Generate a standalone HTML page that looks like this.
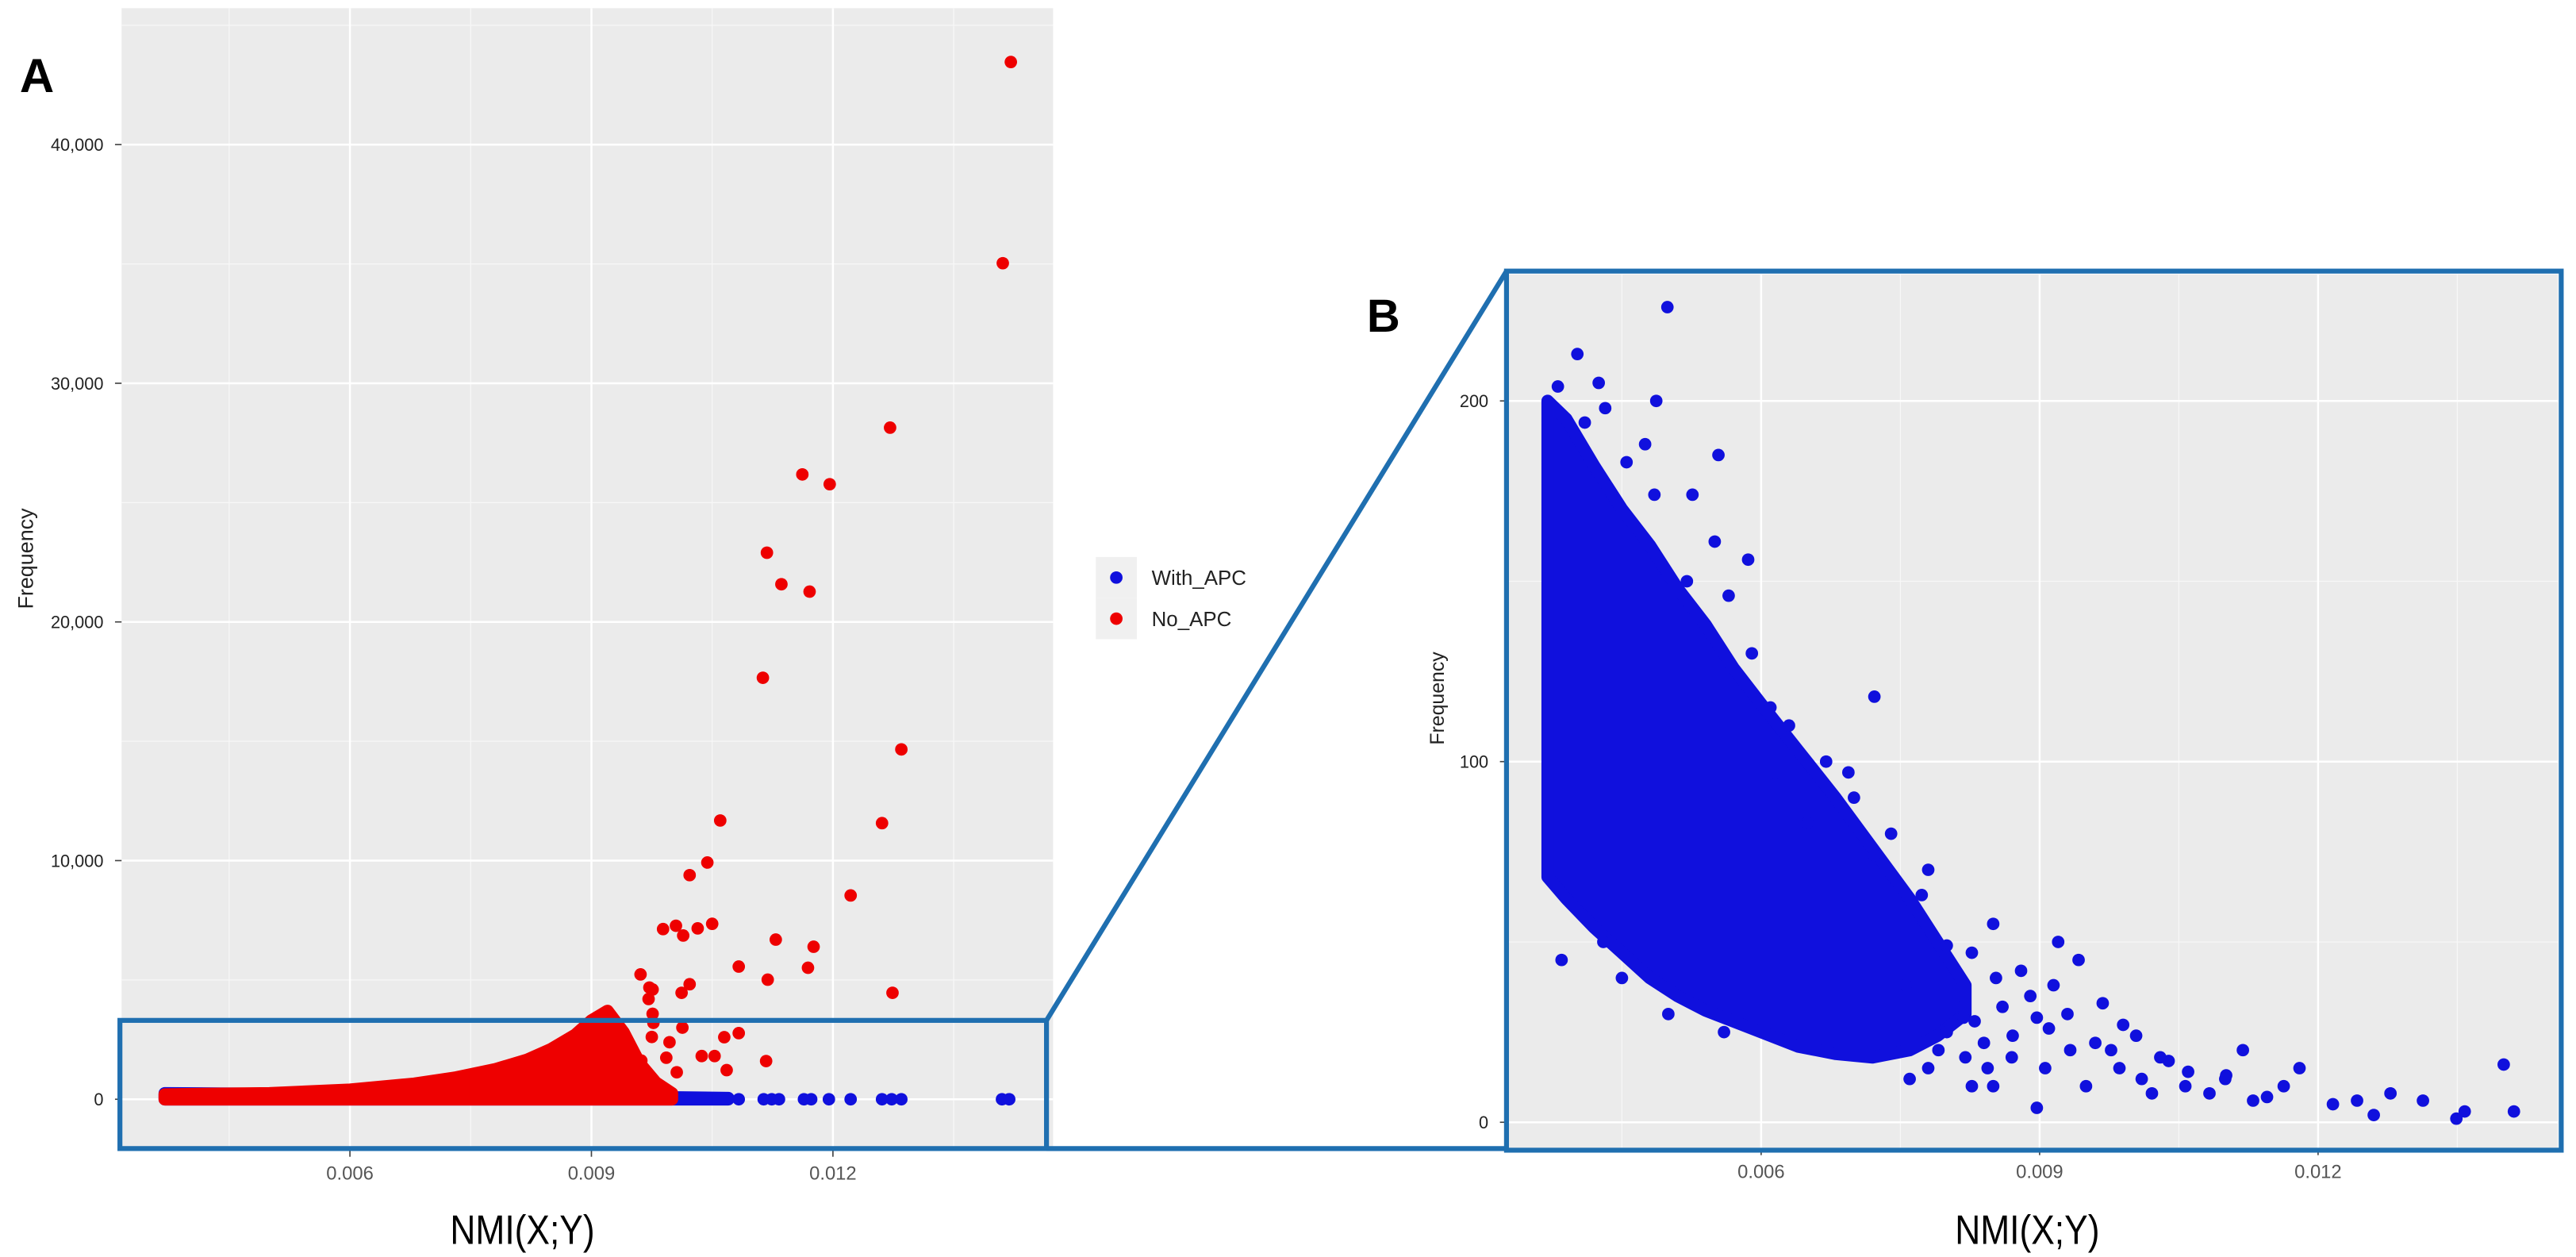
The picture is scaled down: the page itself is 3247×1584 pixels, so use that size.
<!DOCTYPE html>
<html><head><meta charset="utf-8"><style>
html,body{margin:0;padding:0;background:#fff;}
svg{display:block;}
text{font-family:"Liberation Sans",sans-serif;}
</style></head><body>
<svg id="fig" width="3247" height="1584" viewBox="0 0 1568 765" preserveAspectRatio="none" xmlns="http://www.w3.org/2000/svg">
<g id="panelA"></g>
<g id="panelB"></g>
<g id="overlay"></g>
</svg>
<script>
// ---------- Panel A data ----------
const aXMajor = [0.006, 0.009, 0.012];
const aXMinor = [0.0045, 0.0075, 0.0105, 0.0135];
const aYMajor = [0, 10000, 20000, 30000, 40000];
const aYMinor = [5000, 15000, 25000, 35000, 45000];
const aXLabels = ["0.006", "0.009", "0.012"];
const aYLabels = ["0", "10,000", "20,000", "30,000", "40,000"];
const aBlueCoreX = [0.0037, 0.0060, 0.0080, 0.0090, 0.0100, 0.0107];
const aBlueCoreHi = [250, 200, 150, 120, 80, 50];
const aBlueCoreLo = [0, 0, 0, 0, 0, 0];
const aBluePtsX = [0.01083, 0.01114, 0.01124, 0.01133, 0.01164, 0.01173, 0.01195, 0.01222, 0.01261, 0.01273, 0.01285, 0.0141, 0.01419];
const aBluePtsY = [0, 0, 0, 0, 0, 0, 0, 0, 0, 0, 0, 0, 0];
const aRedCoreX = [0.0037, 0.0050, 0.0060, 0.0068, 0.0073, 0.0078, 0.0082, 0.0085, 0.0088, 0.0090, 0.0092, 0.0094, 0.0096, 0.0098, 0.0100];
const aRedCoreHi = [200, 250, 400, 650, 900, 1250, 1650, 2100, 2700, 3300, 3700, 2800, 1500, 700, 250];
const aRedCoreLo = [0, 0, 0, 0, 0, 0, 0, 0, 0, 0, 0, 0, 0, 0, 0];
const aRedPtsX = [0.01421, 0.01411, 0.01271, 0.01162, 0.01196, 0.01118, 0.01136, 0.01171, 0.01113, 0.01285, 0.01261, 0.0106, 0.01044, 0.01022, 0.01222, 0.00989, 0.01005, 0.01014, 0.01032, 0.0105, 0.01129, 0.01176, 0.01083, 0.01169, 0.01119, 0.01274, 0.00961, 0.00972, 0.00976, 0.01022, 0.01012, 0.00976, 0.01083, 0.01065, 0.01117, 0.01068, 0.01037, 0.01053, 0.01013, 0.00997, 0.00975, 0.0094, 0.00962, 0.01006, 0.00993, 0.00977, 0.00971];
const aRedPtsY = [43460, 35030, 28140, 26180, 25770, 22900, 21580, 21270, 17660, 14660, 11570, 11680, 9920, 9390, 8540, 7130, 7270, 6860, 7160, 7350, 6690, 6390, 5560, 5510, 5010, 4460, 5230, 4680, 4600, 4820, 4460, 3580, 2770, 2600, 1600, 1220, 1810, 1810, 3000, 2390, 2610, 1950, 1620, 1130, 1740, 3200, 4200];

// ---------- Panel B data ----------
const bXMajor = [0.006, 0.009, 0.012];
const bXMinor = [0.0045, 0.0075, 0.0105, 0.0135];
const bYMajor = [0, 100, 200];
const bYMinor = [50, 150];
const bXLabels = ["0.006", "0.009", "0.012"];
const bYLabels = ["0", "100", "200"];
const bCoreX = [0.0037, 0.0039, 0.0042, 0.0045, 0.0048, 0.0051, 0.0054, 0.0057, 0.0060, 0.0064, 0.0068, 0.0072, 0.0076, 0.0079, 0.0082];
const bCoreHi = [200, 195, 182, 170, 160, 148, 138, 126, 116, 103, 90, 76, 62, 50, 38];
const bCoreLo = [68, 62, 54, 47, 40, 35, 31, 28, 25, 21, 19, 18, 20, 24, 30];
const bPtsX = [0.00381, 0.00402, 0.00425, 0.00432, 0.00487, 0.00499, 0.00554, 0.00526, 0.00586, 0.00565, 0.00485, 0.00455, 0.0041, 0.00475, 0.0055, 0.0061, 0.00615, 0.0065, 0.00722, 0.00694, 0.00722, 0.00773, 0.008, 0.00827, 0.00853, 0.0088, 0.00897, 0.00933, 0.00915, 0.00942, 0.00968, 0.00986, 0.01004, 0.01039, 0.01057, 0.01083, 0.01101, 0.01119, 0.01145, 0.01163, 0.0118, 0.01216, 0.01242, 0.0126, 0.01278, 0.01313, 0.01349, 0.01358, 0.014, 0.01411, 0.00756, 0.00791, 0.00844, 0.00871, 0.00818, 0.00906, 0.0095, 0.00977, 0.01021, 0.00897, 0.00827, 0.0085, 0.0092, 0.0078, 0.0074, 0.0070, 0.0067, 0.0063, 0.0059, 0.0052, 0.0045, 0.0050, 0.0056, 0.0043, 0.00385, 0.0081, 0.0083, 0.0086, 0.0084, 0.0087, 0.0089, 0.0091, 0.0093, 0.0096, 0.0099, 0.0101, 0.0103, 0.0106, 0.0110, 0.0113, 0.0076, 0.0078, 0.0080, 0.0082, 0.0085];
const bPtsY = [204, 213, 205, 198, 200, 226, 185, 174, 156, 146, 174, 183, 194, 188, 161, 115, 97, 83, 118, 97, 74, 63, 49, 47, 40, 42, 29, 20, 38, 45, 33, 15, 24, 17, 10, 8, 13, 20, 7, 10, 15, 5, 6, 2, 8, 6, 1, 3, 16, 3, 38, 20, 15, 24, 29, 15, 10, 20, 8, 4, 10, 55, 50, 70, 80, 90, 100, 110, 130, 150, 40, 30, 25, 50, 45, 35, 28, 32, 22, 18, 35, 26, 30, 22, 27, 12, 18, 14, 12, 6, 12, 15, 25, 18, 10];

const NS = "http://www.w3.org/2000/svg";
function mk(parent, tag, attrs) {
  const el = document.createElementNS(NS, tag);
  for (const k in attrs) el.setAttribute(k, attrs[k]);
  parent.appendChild(el);
  return el;
}
function xA(v) { return 213 + (v - 0.006) * 49000; }
function yA(f) { return 669 - f * 0.014525; }
function xB(v) { return 1072 + (v - 0.006) * 56500; }
function yB(f) { return 683 - f * 2.195; }

const BLUE = "#1010dd", RED = "#ee0000";
const R = 3.8;

function drawPanel(g, box, xf, yf, xMaj, xMin, yMaj, yMin, xLab, yLab, name) {
  const bg = mk(g, "rect", {x: box.x0, y: box.y0, width: box.x1 - box.x0, height: box.y1 - box.y0, fill: "#ebebeb"});
  
  
  xMin.forEach(v => { const l = mk(g, "line", {x1: xf(v), x2: xf(v), y1: box.y0, y2: box.y1, stroke: "#f7f7f7", "stroke-width": 0.6});
    
     });
  yMin.forEach(v => { const l = mk(g, "line", {x1: box.x0, x2: box.x1, y1: yf(v), y2: yf(v), stroke: "#f7f7f7", "stroke-width": 0.6});
    
     });
  xMaj.forEach((v, i) => {
    const l = mk(g, "line", {x1: xf(v), x2: xf(v), y1: box.y0, y2: box.y1, stroke: "#fff", "stroke-width": 1.2});
    
    
    const t = mk(g, "line", {x1: xf(v), x2: xf(v), y1: box.y1, y2: box.y1 + 4, stroke: "#444", "stroke-width": 0.8});
    
    
    const tx = mk(g, "text", {x: xf(v), y: box.y1 + 18, "text-anchor": "middle", "font-size": 11.5, fill: "#555"});
    tx.textContent = xLab[i];
    
    
  });
  yMaj.forEach((v, i) => {
    const l = mk(g, "line", {x1: box.x0, x2: box.x1, y1: yf(v), y2: yf(v), stroke: "#fff", "stroke-width": 1.2});
    
    
    const t = mk(g, "line", {x1: box.x0 - 4, x2: box.x0, y1: yf(v), y2: yf(v), stroke: "#444", "stroke-width": 0.8});
    
    
    const tx = mk(g, "text", {x: box.x0 - 11, y: yf(v) + 3.8, "text-anchor": "end", "font-size": 10.5, fill: "#222"});
    tx.textContent = yLab[i];
    
    
  });
}
function band(g, xs, hi, lo, xf, yf, color, name) {
  const pts = [];
  xs.forEach((v, i) => pts.push(xf(v) + "," + yf(hi[i])));
  for (let i = xs.length - 1; i >= 0; i--) pts.push(xf(xs[i]) + "," + yf(lo[i]));
  const p = mk(g, "polygon", {points: pts.join(" "), fill: color, stroke: color, "stroke-width": 2 * R, "stroke-linejoin": "round"});
  
  
}
function pts(g, xs, ys, xf, yf, color, name) {
  xs.forEach((v, i) => {
    const c = mk(g, "circle", {cx: xf(v), cy: yf(ys[i]), r: R, fill: color});
    
    
  });
}

const gA = document.getElementById("panelA");
drawPanel(gA, {x0: 74, x1: 641, y0: 5, y1: 700}, xA, yA, aXMajor, aXMinor, aYMajor, aYMinor, aXLabels, aYLabels, "panel-a");
band(gA, aBlueCoreX, aBlueCoreHi, aBlueCoreLo, xA, yA, BLUE, "with-apc-core");
pts(gA, aBluePtsX, aBluePtsY, xA, yA, BLUE, "with-apc-point");
band(gA, aRedCoreX, aRedCoreHi, aRedCoreLo, xA, yA, RED, "no-apc-core");
pts(gA, aRedPtsX, aRedPtsY, xA, yA, RED, "no-apc-point");

const gB = document.getElementById("panelB");
drawPanel(gB, {x0: 917, x1: 1557, y0: 167, y1: 699}, xB, yB, bXMajor, bXMinor, bYMajor, bYMinor, bXLabels, bYLabels, "panel-b");
band(gB, bCoreX, bCoreHi, bCoreLo, xB, yB, BLUE, "with-apc-core-zoom");
pts(gB, bPtsX, bPtsY, xB, yB, BLUE, "with-apc-point-zoom");
</script>
<script>
(function(){
const g = document.getElementById("overlay");
g.innerHTML = `
<rect x="73" y="621" width="564" height="78" fill="none" stroke="#1f6fb0" stroke-width="3"/>
<line x1="637" y1="621" x2="917" y2="165" stroke="#1f6fb0" stroke-width="3"/>
<line x1="637" y1="699" x2="917" y2="699" stroke="#1f6fb0" stroke-width="3"/>
<rect x="917" y="165" width="642" height="535" fill="none" stroke="#1f6fb0" stroke-width="3"/>
<text x="12" y="56" font-size="29" font-weight="bold" fill="#000">A</text>
<text x="832" y="202" font-size="28" font-weight="bold" fill="#000">B</text>
<text x="318" y="757" font-size="25" text-anchor="middle" textLength="88" lengthAdjust="spacingAndGlyphs" fill="#000">NMI(X;Y)</text>
<text x="1234" y="757" font-size="25" text-anchor="middle" textLength="88" lengthAdjust="spacingAndGlyphs" fill="#000">NMI(X;Y)</text>
<text transform="translate(20,340) rotate(-90)" font-size="13" text-anchor="middle" fill="#222">Frequency</text>
<text transform="translate(879,425) rotate(-90)" font-size="12" text-anchor="middle" fill="#222">Frequency</text>
<g>
<rect x="667" y="339" width="25" height="25" fill="#f0f0f0"/>
<rect x="667" y="364" width="25" height="25" fill="#f0f0f0"/>
<circle cx="679.5" cy="351.5" r="3.8" fill="#1010dd"/>
<circle cx="679.5" cy="376.5" r="3.8" fill="#ee0000"/>
<text x="701" y="356" font-size="12.5" fill="#222">With_APC</text>
<text x="701" y="381" font-size="12.5" fill="#222">No_APC</text>
</g>`;
})();
</script>
</body></html>
